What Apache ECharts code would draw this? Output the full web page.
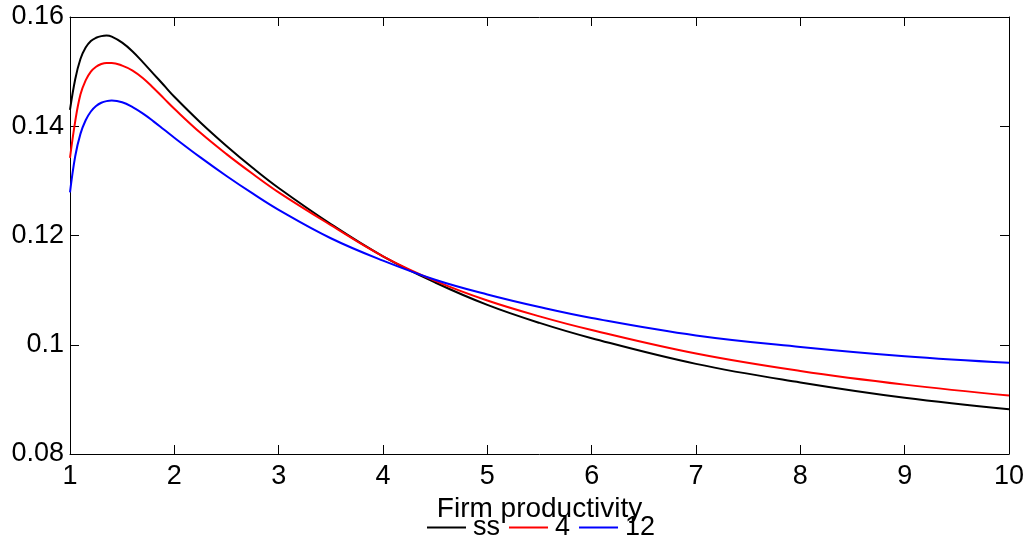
<!DOCTYPE html>
<html>
<head>
<meta charset="utf-8">
<script src="https://cdn.jsdelivr.net/npm/echarts@6/dist/echarts.min.js"></script>
<style>
  html, body { margin: 0; padding: 0; background: #fff; }
  #chart { width: 1031px; height: 545px; }
</style>
</head>
<body>
<div id="chart"></div>
<script>
// Firm productivity grid (shared by all three series)
const productivity = [1.0, 1.05, 1.1, 1.15, 1.2, 1.25, 1.3, 1.35, 1.4, 1.5, 1.6, 1.7, 1.8, 1.9, 2.0,
                      2.25, 2.5, 2.75, 3, 3.5, 4, 4.5, 5, 5.5, 6, 7, 8, 9, 10];

// Distribution values per horizon
const seriesSS = [0.1430, 0.1486, 0.1523, 0.1544, 0.1556, 0.1562, 0.1565, 0.1566, 0.1564, 0.1553, 0.1537, 0.1517, 0.1496, 0.1475, 0.1454,
                  0.1407, 0.1364, 0.1324, 0.1287, 0.1221, 0.1162, 0.1114, 0.1073, 0.1040, 0.1012, 0.0965, 0.0931, 0.0903, 0.0882];
const series4  = [0.1342, 0.1409, 0.1458, 0.1484, 0.1500, 0.1509, 0.1514, 0.1516, 0.1516, 0.1511, 0.1502, 0.1488, 0.1470, 0.1451, 0.1432,
                  0.1388, 0.1349, 0.1313, 0.1279, 0.1219, 0.1162, 0.1117, 0.1081, 0.1052, 0.1027, 0.0984, 0.0952, 0.0927, 0.0907];
const series12 = [0.1279, 0.1345, 0.1386, 0.1411, 0.1427, 0.1437, 0.1443, 0.1446, 0.1447, 0.1444, 0.1435, 0.1423, 0.1409, 0.1394, 0.1379,
                  0.1343, 0.1309, 0.1277, 0.1247, 0.1195, 0.1154, 0.1119, 0.1092, 0.1069, 0.1049, 0.1017, 0.0996, 0.0979, 0.0967];

const seriesNames  = ['ss', '4', '12'];
const seriesColors = ['#000000', '#ff0000', '#0000ff'];
const seriesValues = [seriesSS, series4, series12];

const xTicks = { min: 1, max: 10, interval: 1 };
const yTicks = { min: 0.08, max: 0.16, interval: 0.02 };

const FONT = 'Liberation Sans, Arial, Helvetica, sans-serif';

const pairs = vals => productivity.map((x, i) => [x, vals[i]]);

const axisCommon = {
  axisLine: { show: true, onZero: false, lineStyle: { color: '#000', width: 1 } },
  axisTick: { show: true, inside: true, length: 9, lineStyle: { color: '#000', width: 1 } },
  splitLine: { show: false }
};

const chart = echarts.init(document.getElementById('chart'), null, { renderer: 'canvas' });
chart.setOption({
  backgroundColor: '#ffffff',
  animation: false,
  grid: { left: 70, right: 22, top: 17, bottom: 91, containLabel: false },
  legend: {
    data: seriesNames,
    top: 509,
    left: 422,
    icon: 'rect',
    itemWidth: 39,
    itemHeight: 2,
    itemGap: 9,
    textStyle: { fontFamily: FONT, fontSize: 27, color: '#000', padding: [0, 0, 0, 2] }
  },
  xAxis: [
    Object.assign({
      type: 'value', position: 'bottom',
      min: xTicks.min, max: xTicks.max, interval: xTicks.interval,
      name: 'Firm productivity', nameLocation: 'middle', nameGap: 35,
      nameTextStyle: { fontFamily: FONT, fontSize: 28, color: '#000' },
      axisLabel: { fontFamily: FONT, fontSize: 27, color: '#000', margin: 9 }
    }, axisCommon),
    Object.assign({
      type: 'value', position: 'top',
      min: xTicks.min, max: xTicks.max, interval: xTicks.interval,
      axisLabel: { show: false }
    }, axisCommon)
  ],
  yAxis: [
    Object.assign({
      type: 'value', position: 'left',
      min: yTicks.min, max: yTicks.max, interval: yTicks.interval,
      axisLabel: { fontFamily: FONT, fontSize: 27, color: '#000', margin: 6 }
    }, axisCommon),
    Object.assign({
      type: 'value', position: 'right',
      min: yTicks.min, max: yTicks.max, interval: yTicks.interval,
      axisLabel: { show: false }
    }, axisCommon)
  ],
  series: seriesNames.map((name, i) => ({
    name: name,
    type: 'line',
    xAxisIndex: 0,
    yAxisIndex: 0,
    data: pairs(seriesValues[i]),
    smooth: 0.4,
    symbol: 'none',
    color: seriesColors[i],
    lineStyle: { color: seriesColors[i], width: 2 }
  }))
});
</script>
</body>
</html>
